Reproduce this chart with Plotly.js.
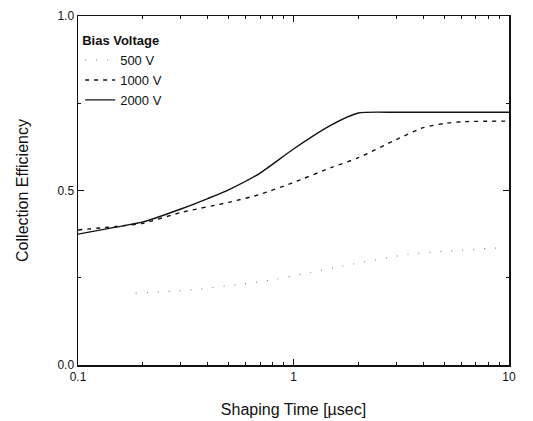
<!DOCTYPE html>
<html><head><meta charset="utf-8">
<script src="https://cdn.plot.ly/plotly-3.0.1.min.js"></script>
<style>html,body{margin:0;padding:0;background:#fff}</style>
</head><body><div id="chart" style="width:533px;height:421px"></div>
<script>
// Shaping time (µsec) and collection efficiency for each bias voltage
const t2000 = [0.1, 0.15, 0.2, 0.3, 0.4, 0.5, 0.7, 1.0, 1.5, 2.0, 3.0, 5.0, 10];
const e2000 = [0.375, 0.395, 0.410, 0.447, 0.477, 0.502, 0.550, 0.619, 0.688, 0.722, 0.724, 0.724, 0.724];
const t1000 = [0.1, 0.15, 0.2, 0.3, 0.5, 0.7, 1.0, 1.5, 2.0, 3.0, 4.0, 5.0, 6.0, 10];
const e1000 = [0.387, 0.397, 0.406, 0.437, 0.466, 0.489, 0.523, 0.566, 0.594, 0.646, 0.680, 0.692, 0.697, 0.699];
const t500  = [0.185, 0.32, 0.56, 0.83, 1.67, 3.4, 9.7];
const e500  = [0.206, 0.214, 0.231, 0.246, 0.283, 0.317, 0.337];
const names = ['500 V', '1000 V', '2000 V'];
const xTicks = [0.1, 1, 10];
const xTickText = ['0.1', '1', '10'];
const yTicks = [0.0, 0.5, 1.0];
const yTickText = ['0.0', '0.5', '1.0'];

const data = [
  {x: t500, y: e500, name: names[0], mode: 'lines', line: {color: '#888', width: 1.2, dash: '1px,10px', shape: 'spline', smoothing: 0.6}},
  {x: t1000, y: e1000, name: names[1], mode: 'lines', line: {color: '#111', width: 1.4, dash: '4px,5px', shape: 'spline', smoothing: 0.6}},
  {x: t2000, y: e2000, name: names[2], mode: 'lines', line: {color: '#111', width: 1.4, shape: 'spline', smoothing: 0.6}}
];
const font = {family: 'Liberation Sans, Arial, sans-serif', color: '#111'};
const layout = {
  width: 533, height: 421,
  margin: {l: 78, r: 24, t: 16, b: 56},
  paper_bgcolor: '#fff', plot_bgcolor: '#fff',
  font: font,
  showlegend: true,
  legend: {
    x: 0.005, y: 0.965, xanchor: 'left', yanchor: 'top',
    bgcolor: 'rgba(0,0,0,0)', font: {size: 13, family: font.family, color: '#111'},
    title: {text: '<b>Bias Voltage</b>', side: 'top', font: {size: 13, family: font.family, color: '#111'}},
    tracegroupgap: 0
  },
  xaxis: {
    type: 'log', range: [-1, 1],
    tickvals: xTicks, ticktext: xTickText,
    ticks: 'inside', ticklen: 6, tickcolor: '#111', tickwidth: 1.2,
    minor: {ticks: 'inside', ticklen: 3, tickcolor: '#111', tickvals: [0.2,0.3,0.4,0.5,0.6,0.7,0.8,0.9,2,3,4,5,6,7,8,9]},
    showline: true, linecolor: '#111', linewidth: 1.5, mirror: 'ticks',
    showgrid: false, zeroline: false,
    tickfont: {size: 12, family: font.family, color: '#111'},
    title: {text: 'Shaping Time [µsec]', font: {size: 16, family: font.family, color: '#111'}, standoff: 21}
  },
  yaxis: {
    range: [0, 1],
    tickvals: yTicks, ticktext: yTickText,
    ticks: 'inside', ticklen: 6, tickcolor: '#111', tickwidth: 1.2,
    minor: {ticks: 'inside', ticklen: 3, tickcolor: '#111', tickvals: [0.25, 0.75]},
    showline: true, linecolor: '#111', linewidth: 1.5, mirror: 'ticks',
    showgrid: false, zeroline: false,
    tickfont: {size: 12, family: font.family, color: '#111'},
    title: {text: 'Collection Efficiency', font: {size: 16, family: font.family, color: '#111'}, standoff: 25}
  }
};
Plotly.newPlot('chart', data, layout, {displayModeBar: false, staticPlot: true});
</script></body></html>
